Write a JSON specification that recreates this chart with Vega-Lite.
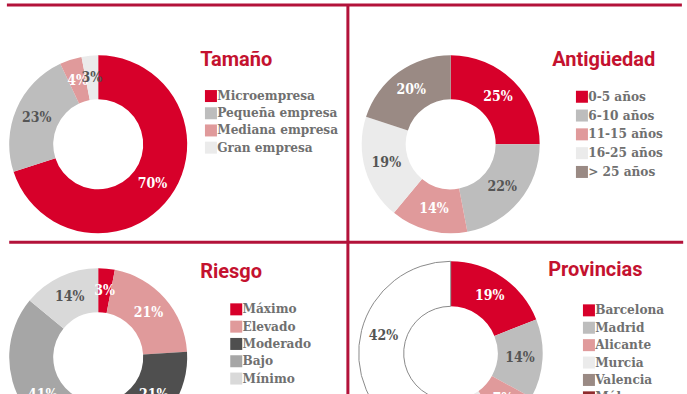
{
  "$schema": "https://vega.github.io/schema/vega-lite/v6.json",
  "padding": {"left": 5.2, "top": 3.3, "right": 0, "bottom": 0},
  "bounds": "flush",
  "columns": 2,
  "spacing": {"row": 27, "column": 172.5},
  "resolve": {"scale": {"color": "independent", "theta": "independent"}, "legend": {"color": "independent"}},
  "config": {
    "view": {"stroke": null},
    "legend": {"orient": "none", "title": null, "symbolType": "square", "symbolSize": 144, "symbolStrokeWidth": 0, "symbolOpacity": 1, "labelFont": "DejaVu Serif Condensed", "labelFontSize": 13.5, "labelFontWeight": "bold", "labelColor": "#707070", "labelOffset": -0.5, "padding": 0, "rowPadding": 3, "labelLimit": 400},
    "title": {"font": "Roboto", "fontSize": 20, "fontWeight": "bold", "color": "#c4122f", "anchor": "start", "frame": "group", "orient": "top", "baseline": "alphabetic"},
    "text": {"font": "DejaVu Serif Condensed", "fontWeight": "bold", "fontSize": 14}
  },
  "datasets": {
    "tamano": [
      {"tam": "Microempresa", "v": 0.70, "o": 1},
      {"tam": "Pequeña empresa", "v": 0.23, "o": 2},
      {"tam": "Mediana empresa", "v": 0.04, "o": 3},
      {"tam": "Gran empresa", "v": 0.03, "o": 4}
    ],
    "antiguedad": [
      {"ant": "0-5 años", "v": 0.25, "o": 1},
      {"ant": "6-10 años", "v": 0.22, "o": 2},
      {"ant": "11-15 años", "v": 0.14, "o": 3},
      {"ant": "16-25 años", "v": 0.19, "o": 4},
      {"ant": "> 25 años", "v": 0.20, "o": 5}
    ],
    "riesgo": [
      {"rie": "Máximo", "v": 0.03, "o": 1},
      {"rie": "Elevado", "v": 0.21, "o": 2},
      {"rie": "Moderado", "v": 0.21, "o": 3},
      {"rie": "Bajo", "v": 0.41, "o": 4},
      {"rie": "Mínimo", "v": 0.14, "o": 5}
    ],
    "provincias": [
      {"pro": "Barcelona", "v": 0.19, "o": 1},
      {"pro": "Madrid", "v": 0.14, "o": 2},
      {"pro": "Alicante", "v": 0.07, "o": 3},
      {"pro": "Murcia", "v": 0.06, "o": 4},
      {"pro": "Valencia", "v": 0.07, "o": 5},
      {"pro": "Málaga", "v": 0.05, "o": 6},
      {"pro": "Otras", "v": 0.42, "o": 7}
    ]
  },
  "concat": [
    {
      "width": 180, "height": 180,
      "data": {"name": "tamano"},
      "title": {"text": "Tamaño", "dx": 192, "offset": -65.9},
      "layer": [
        {
          "mark": {"type": "arc", "innerRadius": 45, "outerRadius": 89},
          "encoding": {
            "theta": {"field": "v", "type": "quantitative", "stack": true},
            "order": {"field": "o"},
            "color": {"field": "tam", "type": "nominal",
              "scale": {"domain": ["Microempresa", "Pequeña empresa", "Mediana empresa", "Gran empresa"], "range": ["#d7002a", "#bdbdbd", "#e09a9b", "#ebebeb"]},
              "legend": {"legendX": 196, "legendY": 35, "rowPadding": 2.2}}
          }
        },
        {
          "mark": {"type": "text", "radius": 67},
          "encoding": {
            "theta": {"field": "v", "type": "quantitative", "stack": true},
            "order": {"field": "o"},
            "text": {"field": "v", "type": "quantitative", "format": ".0%"},
            "color": {"condition": {"test": "indexof(['Microempresa','Mediana empresa'], datum.tam) >= 0", "value": "#ffffff"}, "value": "#555555"}
          }
        },
        {
          "data": {"values": [{"line": "top"}]},
          "mark": {"type": "rule", "color": "#b3123a", "strokeWidth": 3},
          "encoding": {"x": {"value": -1.3}, "x2": {"value": 673.7}, "y": {"value": -49.2}}
        },
        {
          "data": {"values": [{"line": "vertical"}]},
          "mark": {"type": "rule", "color": "#b3123a", "strokeWidth": 3},
          "encoding": {"x": {"value": 339.7}, "y": {"value": -49.2}, "y2": {"value": 400}}
        },
        {
          "data": {"values": [{"line": "middle"}]},
          "mark": {"type": "rule", "color": "#b3123a", "strokeWidth": 3},
          "encoding": {"x": {"value": 1}, "x2": {"value": 675}, "y": {"value": 188}}
        }
      ]
    },
    {
      "width": 180, "height": 180,
      "data": {"name": "antiguedad"},
      "title": {"text": "Antigüedad", "dx": 191.5, "offset": -15.2},
      "layer": [
        {
          "mark": {"type": "arc", "innerRadius": 45, "outerRadius": 89},
          "encoding": {
            "theta": {"field": "v", "type": "quantitative", "stack": true},
            "order": {"field": "o"},
            "color": {"field": "ant", "type": "nominal",
              "scale": {"domain": ["0-5 años", "6-10 años", "11-15 años", "16-25 años", "> 25 años"], "range": ["#d7002a", "#bdbdbd", "#e09a9b", "#ebebeb", "#9a8a84"]},
              "legend": {"legendX": 214.5, "legendY": 35.7, "rowPadding": 3.8}}
          }
        },
        {
          "mark": {"type": "text", "radius": 67},
          "encoding": {
            "theta": {"field": "v", "type": "quantitative", "stack": true},
            "order": {"field": "o"},
            "text": {"field": "v", "type": "quantitative", "format": ".0%"},
            "color": {"condition": {"test": "indexof(['0-5 años','11-15 años','> 25 años'], datum.ant) >= 0", "value": "#ffffff"}, "value": "#555555"}
          }
        }
      ]
    },
    {
      "width": 180, "height": 192,
      "data": {"name": "riesgo"},
      "title": {"text": "Riesgo", "dx": 192, "offset": -20.8},
      "layer": [
        {
          "mark": {"type": "arc", "innerRadius": 45, "outerRadius": 89},
          "encoding": {
            "theta": {"field": "v", "type": "quantitative", "stack": true},
            "order": {"field": "o"},
            "color": {"field": "rie", "type": "nominal",
              "scale": {"domain": ["Máximo", "Elevado", "Moderado", "Bajo", "Mínimo"], "range": ["#d7002a", "#e09a9b", "#4f4f4f", "#a6a6a6", "#d9d9d9"]},
              "legend": {"legendX": 221.3, "legendY": 41.3, "rowPadding": 2.3}}
          }
        },
        {
          "mark": {"type": "text", "radius": 67},
          "encoding": {
            "theta": {"field": "v", "type": "quantitative", "stack": true},
            "order": {"field": "o"},
            "text": {"field": "v", "type": "quantitative", "format": ".0%"},
            "color": {"condition": {"test": "datum.rie !== 'Mínimo'", "value": "#ffffff"}, "value": "#555555"}
          }
        }
      ]
    },
    {
      "width": 180, "height": 184,
      "data": {"name": "provincias"},
      "title": {"text": "Provincias", "dx": 187.5, "offset": -21},
      "layer": [
        {
          "mark": {"type": "arc", "innerRadius": 47, "outerRadius": 92, "strokeWidth": 1},
          "encoding": {
            "theta": {"field": "v", "type": "quantitative", "stack": true},
            "order": {"field": "o"},
            "color": {"field": "pro", "type": "nominal",
              "scale": {"domain": ["Barcelona", "Madrid", "Alicante", "Murcia", "Valencia", "Málaga", "Otras"], "range": ["#d7002a", "#bdbdbd", "#e09a9b", "#ebebeb", "#9a8a84", "#8e2a2c", "#ffffff"]},
              "legend": {"legendX": 221.5, "legendY": 42.3, "rowPadding": 2.4}},
            "stroke": {"condition": {"test": "datum.pro === 'Otras'", "value": "#8a8a8a"}, "value": null}
          }
        },
        {
          "mark": {"type": "text", "radius": 69.5},
          "encoding": {
            "theta": {"field": "v", "type": "quantitative", "stack": true},
            "order": {"field": "o"},
            "text": {"field": "v", "type": "quantitative", "format": ".0%"},
            "color": {"condition": {"test": "indexof(['Barcelona','Alicante','Valencia','Málaga'], datum.pro) >= 0", "value": "#ffffff"}, "value": "#555555"}
          }
        }
      ]
    }
  ]
}
